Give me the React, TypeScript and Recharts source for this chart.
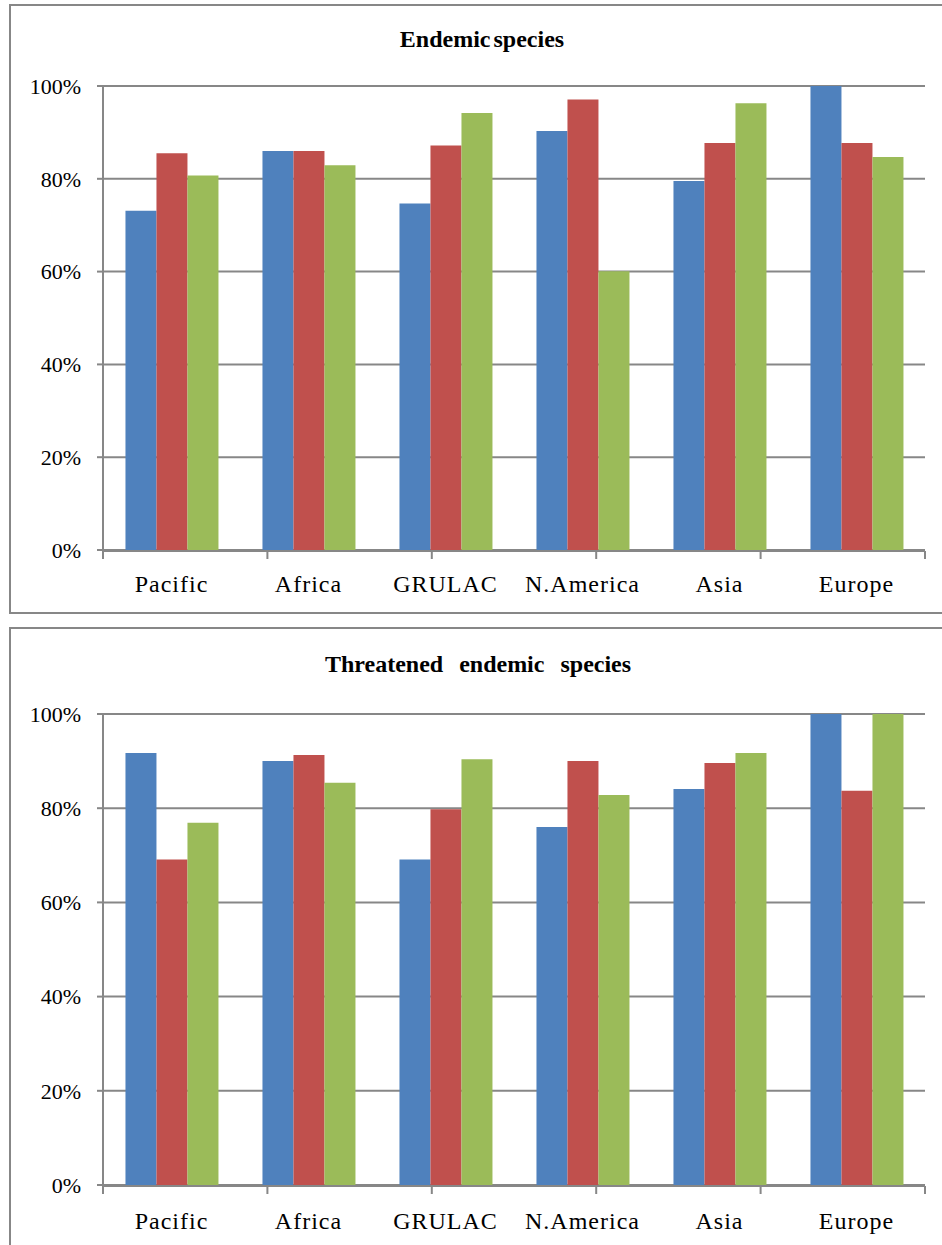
import { Bar, BarChart, CartesianGrid, XAxis, YAxis } from "recharts";

const regions = ["Pacific", "Africa", "GRULAC", "N.America", "Asia", "Europe"];

const endemicBlue = [73.1, 86.0, 74.7, 90.3, 79.5, 100];
const endemicRed = [85.5, 86.0, 87.2, 97.1, 87.7, 87.7];
const endemicGreen = [80.7, 82.9, 94.2, 60.1, 96.3, 84.7];

const threatenedBlue = [91.7, 90.0, 69.1, 76.0, 84.1, 100];
const threatenedRed = [69.1, 91.3, 79.8, 90.0, 89.6, 83.7];
const threatenedGreen = [76.9, 85.4, 90.4, 82.8, 91.7, 100];

const percentTicks = [0, 20, 40, 60, 80, 100];
const edgeTicks = [0, 1, 2, 3, 4, 5, 6];

const BLUE = "#4f81bd";
const RED = "#c0504d";
const GREEN = "#9bbb59";
const GRID = "#878787";
const FONT = "Liberation Serif";

function toRows(a: number[], b: number[], c: number[]) {
  return regions.map((name, i) => ({ name, s1: a[i], s2: b[i], s3: c[i] }));
}

function Panel({
  title,
  rows,
  top,
  height,
  plotBottom,
  labelMargin,
  titleTop,
  titleWidth,
  wordSpacing,
}: {
  title: string;
  rows: { name: string; s1: number; s2: number; s3: number }[];
  top: number;
  height: number;
  plotBottom: number;
  labelMargin: number;
  titleTop: number;
  titleWidth: number;
  wordSpacing: number;
}) {
  return (
    <div style={{ position: "absolute", left: 0, top, width: 942, height }}>
      <div
        style={{
          position: "absolute",
          left: 0,
          top: titleTop,
          width: titleWidth,
          textAlign: "center",
          fontFamily: FONT,
          fontWeight: "bold",
          fontSize: 24,
          lineHeight: "24px",
          wordSpacing,
          color: "#000",
        }}
      >
        {title}
      </div>
      <BarChart
        width={942}
        height={height}
        data={rows}
        margin={{ top: 86, right: 17, left: 13, bottom: height - plotBottom - 2 }}
        barCategoryGap="16.4%"
        barGap={0}
      >
        <CartesianGrid
          vertical={false}
          stroke={GRID}
          strokeWidth={2}
          xAxisId="cat"
          yAxisId="pct"
        />
        <XAxis
          xAxisId="edge"
          type="number"
          domain={[0, 6]}
          ticks={edgeTicks}
          height={1}
          tickSize={8}
          tickFormatter={() => ""}
          axisLine={{ stroke: GRID, strokeWidth: 2 }}
          tickLine={{ stroke: GRID, strokeWidth: 2 }}
        />
        <XAxis
          xAxisId="cat"
          dataKey="name"
          height={1}
          axisLine={false}
          tickLine={false}
          tickSize={8}
          tickMargin={labelMargin}
          interval={0}
          tick={{ fontSize: 24, fill: "#000", fontFamily: FONT, letterSpacing: 1 }}
        />
        <YAxis
          yAxisId="pct"
          width={90}
          domain={[0, 100]}
          ticks={percentTicks}
          tickFormatter={(v) => `${v}%`}
          tickSize={6}
          tickMargin={16}
          axisLine={{ stroke: GRID, strokeWidth: 2 }}
          tickLine={{ stroke: GRID, strokeWidth: 2 }}
          tick={{ fontSize: 22, fill: "#000", fontFamily: FONT }}
        />
        <Bar xAxisId="cat" yAxisId="pct" dataKey="s1" name="Series 1" fill={BLUE} isAnimationActive={false} />
        <Bar xAxisId="cat" yAxisId="pct" dataKey="s2" name="Series 2" fill={RED} isAnimationActive={false} />
        <Bar xAxisId="cat" yAxisId="pct" dataKey="s3" name="Series 3" fill={GREEN} isAnimationActive={false} />
      </BarChart>
    </div>
  );
}

export default function App() {
  return (
    <div
      style={{
        position: "absolute",
        left: 0,
        top: 0,
        width: 942,
        height: 1245,
        overflow: "hidden",
        background: "#fff",
      }}
    >
      <div
        style={{
          position: "absolute",
          left: 9,
          top: 4,
          width: 1000,
          height: 606,
          border: `2px solid ${GRID}`,
        }}
      />
      <div
        style={{
          position: "absolute",
          left: 9,
          top: 627,
          width: 1000,
          height: 700,
          border: `2px solid ${GRID}`,
        }}
      />
      <Panel
        title="Endemic species"
        rows={toRows(endemicBlue, endemicRed, endemicGreen)}
        top={0}
        height={612}
        plotBottom={550}
        labelMargin={17}
        titleTop={27}
        titleWidth={964}
        wordSpacing={-3}
      />
      <Panel
        title="Threatened endemic species"
        rows={toRows(threatenedBlue, threatenedRed, threatenedGreen)}
        top={628}
        height={617}
        plotBottom={557}
        labelMargin={19}
        titleTop={24}
        titleWidth={956}
        wordSpacing={10}
      />
    </div>
  );
}
